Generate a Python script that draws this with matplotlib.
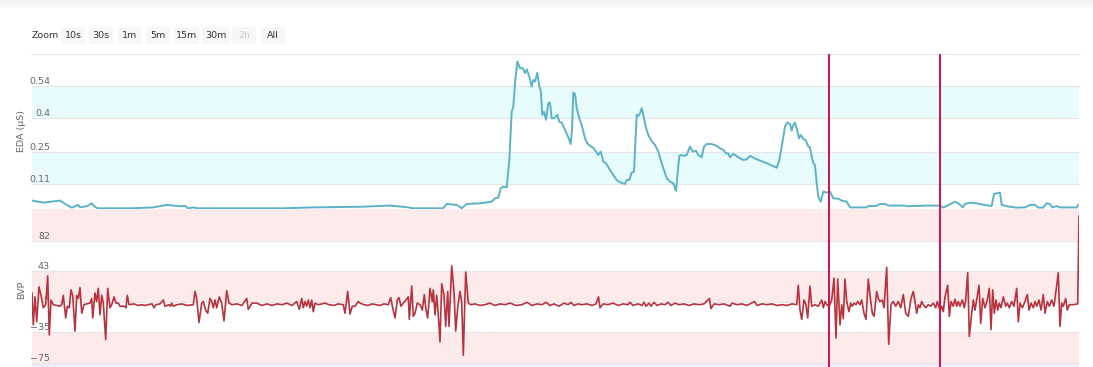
import matplotlib
matplotlib.use("Agg")
import matplotlib.pyplot as plt
import matplotlib.transforms as mtransforms
from matplotlib.patches import Rectangle

plt.rcParams["font.family"] = ["DejaVu Sans"]

# time axis in seconds from the start of the recording
t_end = 1047

# electrodermal activity (microsiemens)
eda_t = [0, 11.3, 28, 34.7, 39.7, 46.3, 48, 55, 59.7, 63,
         66, 100, 121, 134.7, 148, 153, 156, 161, 166, 250,
         280, 330, 358, 375, 381, 411, 414.7, 425, 429.7, 434.7,
         448, 459.7, 463, 466.3, 468.7, 471.3, 474.7, 477.3, 479.7, 481.3,
         483, 485.3, 488, 490.7, 493, 494.7, 497.3, 499.7, 501.3, 503,
         505.3, 507.3, 508.7, 510.3, 512, 514, 516.3, 518, 519.7, 522,
         525.3, 527.3, 529.7, 533, 536.3, 538.7, 540, 541.3, 543, 544.7,
         547.3, 549.7, 553, 555.3, 558.7, 560.7, 564, 566.3, 568.7, 571.3,
         574, 578, 581.3, 584.7, 588, 593, 594.7, 597.3, 599.7, 602,
         604.7, 606.3, 608, 609.7, 611.3, 613.7, 616.3, 619, 623, 626.3,
         629.7, 631.3, 634.7, 638, 641.3, 644, 647.3, 649, 652, 654.7,
         658, 660.7, 664, 666.3, 669.7, 672, 674.7, 679.7, 684.7, 688,
         691.3, 694, 696.3, 698, 701.3, 706.3, 711.3, 714.7, 718, 724.7,
         734.7, 744.7, 747.3, 749.7, 753, 755.3, 758, 759.7, 761.3, 763,
         764.7, 767, 768.7, 771.3, 773.7, 776.3, 778, 779.7, 781.3, 783,
         784.7, 786.3, 788.7, 791.3, 794.7, 798, 801.3, 806.3, 809.7, 814.7,
         818, 834.7, 836.3, 844, 848, 853, 856.3, 873, 875, 894.7,
         908, 911.3, 923, 927.3, 930.7, 933, 938, 944.7, 949.7, 959.7,
         962, 964.7, 968, 969.7, 976, 984.7, 993, 998, 1003, 1006.3,
         1011, 1014.7, 1018, 1020.3, 1024.7, 1028, 1044.7, 1046.3]
eda_us = [0.037, 0.028, 0.037, 0.018, 0.006, 0.018, 0.008, 0.012, 0.025, 0.009,
          0.003, 0.003, 0.007, 0.018, 0.012, 0.014, 0.003, 0.007, 0.003, 0.003,
          0.007, 0.010, 0.015, 0.008, 0.003, 0.003, 0.022, 0.018, 0.003, 0.022,
          0.025, 0.032, 0.047, 0.050, 0.091, 0.098, 0.095, 0.215, 0.427, 0.449,
          0.552, 0.647, 0.618, 0.618, 0.596, 0.613, 0.581, 0.537, 0.566, 0.559,
          0.598, 0.537, 0.522, 0.413, 0.427, 0.391, 0.464, 0.467, 0.398, 0.398,
          0.413, 0.383, 0.379, 0.347, 0.315, 0.285, 0.347, 0.511, 0.505, 0.442,
          0.398, 0.369, 0.310, 0.288, 0.274, 0.271, 0.252, 0.237, 0.252, 0.208,
          0.201, 0.171, 0.149, 0.127, 0.117, 0.110, 0.127, 0.127, 0.160, 0.164,
          0.413, 0.408, 0.420, 0.442, 0.413, 0.361, 0.325, 0.303, 0.281, 0.252,
          0.201, 0.179, 0.135, 0.120, 0.113, 0.079, 0.233, 0.237, 0.233, 0.237,
          0.274, 0.252, 0.255, 0.237, 0.227, 0.274, 0.285, 0.285, 0.277, 0.266,
          0.259, 0.244, 0.244, 0.227, 0.242, 0.227, 0.215, 0.218, 0.233, 0.218,
          0.201, 0.181, 0.215, 0.274, 0.361, 0.379, 0.373, 0.344, 0.369, 0.379,
          0.354, 0.310, 0.325, 0.306, 0.303, 0.274, 0.271, 0.230, 0.201, 0.193,
          0.113, 0.054, 0.032, 0.076, 0.072, 0.076, 0.047, 0.045, 0.037, 0.032,
          0.007, 0.007, 0.013, 0.013, 0.022, 0.022, 0.015, 0.015, 0.012, 0.015,
          0.015, 0.006, 0.032, 0.022, 0.007, 0.022, 0.028, 0.025, 0.020, 0.013,
          0.066, 0.069, 0.072, 0.018, 0.011, 0.006, 0.007, 0.018, 0.018, 0.006,
          0.006, 0.025, 0.022, 0.007, 0.013, 0.007, 0.007, 0.018]

# blood volume pulse
bvp_t = [0, 1.3, 3, 4.7, 7, 9.7, 11.3, 13.7, 15.7, 17.3,
         19, 21.3, 24.7, 28, 29.7, 31.3, 33.7, 35.3, 37.3, 39,
         40.7, 43, 44.7, 46.3, 48, 49.7, 52, 54.7, 58, 59.7,
         60.7, 63, 64.7, 66.3, 68, 69.7, 71.3, 73.7, 75.7, 78,
         79.7, 82, 84, 86.3, 88, 92.3, 94, 95.3, 97, 102,
         106, 110, 113, 116, 120, 122, 124, 128, 131.3, 133,
         137, 138.5, 139.7, 141.3, 145, 150, 155, 161.3, 163, 164.7,
         167, 169.7, 171.3, 173.7, 175.7, 178, 179.7, 181.3, 183, 184.7,
         187.3, 189.7, 192, 194.7, 197, 200, 205, 210, 214.7, 216.3,
         220, 224.7, 230, 235, 240, 245, 250, 255, 260, 264.7,
         267.3, 269.7, 271.3, 273, 274.7, 276.3, 278, 279.7, 281.3, 283,
         286, 290, 293, 297, 302, 306, 311.3, 313, 315.7, 318,
         320.3, 323, 326.3, 328, 332, 336, 340, 344, 348, 352,
         356.3, 358.7, 360.7, 363, 365.3, 367, 369, 371.3, 374, 376.3,
         377.3, 379.7, 381.3, 383, 385.3, 388, 390.3, 392.3, 394, 395.7,
         398, 400.3, 401.3, 403, 404.7, 406.3, 408, 409.7, 412, 413.7,
         415.7, 417, 419.7, 422, 423.7, 425.7, 428, 429.7, 431.3, 433.7,
         436.3, 438.7, 443, 448, 453, 458, 463, 468, 473, 478,
         484, 490, 495, 500, 505, 510, 514, 518, 522, 527,
         532, 536, 539, 542, 546, 550, 555, 560, 564, 566.5,
         568, 571, 576, 581, 586, 591, 596, 598, 601, 606,
         610, 612, 614, 617, 619, 622, 625, 629, 633, 636,
         639, 643, 647, 652, 657, 662, 667, 672, 677.4, 679,
         682, 687, 692, 698, 700, 705, 710, 715, 722.5, 725,
         730, 735, 740, 745, 750, 755, 760, 764.7, 766.3, 768,
         769.7, 772, 774, 775.7, 778, 779.7, 783, 786.3, 789.7, 791.3,
         793, 794.7, 797.3, 799.7, 802, 804, 805.7, 808, 809.7, 811.3,
         813, 814.7, 817, 818.7, 820.3, 822, 824, 825.7, 828, 829.7,
         832, 834, 836.3, 838, 840.3, 842, 844.7, 846.3, 848, 850.3,
         852, 854.7, 856.7, 859, 861.3, 863.7, 866.3, 868.7, 871.3, 873.7,
         876.3, 879, 881.3, 883, 884.7, 886.3, 888, 889.7, 891.3, 893.7,
         896.3, 898.7, 901.3, 903.7, 905.3, 908, 909.7, 911.3, 913, 915.7,
         917.3, 919, 921.3, 923, 924.7, 926.3, 928, 930.3, 932.3, 933.7,
         935.7, 937.3, 939.7, 941.3, 943, 947, 948.7, 950.7, 953, 955.3,
         957.3, 959, 960.7, 962.3, 964, 965.7, 967.3, 969, 971.3, 973.7,
         975.3, 977.3, 979.7, 982, 984.7, 986.3, 988, 990.3, 993, 995.3,
         997, 999, 1001.3, 1003, 1004.7, 1007, 1009, 1011.3, 1013, 1015.3,
         1017.3, 1019.7, 1022, 1026.3, 1028, 1029.7, 1031.3, 1033.7, 1035.3, 1037.3,
         1041.3, 1045.7, 1047]
bvp_val = [15, -26, 10, -22, 23, 8, -4, 0, 37, -39,
           6, 0, -1, -2, 0, 12, -17, -2, -4, 19,
           12, -34, 12, 8, 22, -11, 0, 1, 2, 8,
           -17, 15, 4, 21, -13, 12, 2, -45, 21, -4,
           0, 10, 2, 2, -2, -2, -4, 12, 0, 1,
           -1, 0, -1, 0, 1, -4, 0, 1, 6, -2,
           0, -2, 2, -2, 0, 1, -1, 0, 17, 8,
           -23, 2, 4, -7, -11, 8, 4, -4, 6, -4,
           10, 2, -21, 18, 2, 0, 1, -1, 8, -6,
           2, 2, -1, 1, -1, 1, 0, 2, -1, 4,
           -6, 8, -4, 4, -2, 6, -4, 6, -9, 2,
           0, 1, 2, 0, -1, 1, 0, -11, 17, -12,
           -2, -2, 4, 2, 0, -1, 1, 0, -1, 1,
           0, 9, -4, -17, 6, 9, -2, 2, 6, 10,
           -19, 24, -15, -11, 2, 0, -7, 13, -7, -17,
           21, 4, 19, -13, 12, -13, -48, 27, 12, -28,
           17, -28, 50, 17, -34, -4, 17, 4, -65, 42,
           2, 0, 1, -1, 0, 2, -1, 1, 0, 2,
           -1, 0, 3, -1, 1, 0, 3, -1, 1, -2,
           2, 0, 3, -1, 1, 0, 1, -1, 1, 10,
           -4, 1, 0, 2, -1, 1, 0, 3, -1, 1,
           -1, 3, -2, 2, -2, 3, -1, 1, 0, 3,
           -1, 2, 0, 1, -1, 1, 0, 1, 8, -5,
           1, 0, 1, -2, 2, 0, 1, -1, 4, -1,
           1, 0, 1, -1, 0, -1, 1, 0, 25, -7,
           -19, 6, 0, -17, 24, -2, 0, -2, 6, -4,
           4, 0, -2, 6, 34, -43, 33, -26, 0, -18,
           33, 4, -9, 2, -2, 2, 0, 4, 0, 6,
           -11, -19, 33, 12, -11, -15, 17, 8, 4, 6,
           -4, 48, -51, 0, 4, -2, 4, -4, 13, -11,
           -15, 8, 17, 4, -11, 0, -4, 4, 0, -4,
           0, -2, 2, -4, 4, -7, -2, -9, 10, 25,
           -15, 4, -2, 7, -2, 4, -2, 6, -4, 6,
           41, -41, -11, 6, -7, 25, -24, 8, -4, 6,
           21, -32, 19, -11, 6, -7, 2, -4, 10, -2,
           2, -4, 4, -2, 21, -22, 2, -4, 4, 13,
           -7, 2, -4, 4, -2, 6, -7, 13, -11, 4,
           -2, 6, -2, 41, -28, 2, -2, 8, -7, 0,
           0, 1, 114]

# y axis ticks of both panels
eda_ticks = [0.11, 0.25, 0.4, 0.54]
eda_tick_labels = ["0.11", "0.25", "0.4", "0.54"]
eda_range = (0, 0.68)
bvp_ticks = [-75, -35, 4, 43, 82]
bvp_tick_labels = ["\u221275", "\u221235", "4", "43", "82"]
bvp_range = (-75, 123)

# plot bands drawn between alternating ticks
eda_bands = [(0.11, 0.25), (0.4, 0.54)]
bvp_bands = [(-75, -35), (4, 43), (82, 123)]

# event markers
marker_t = [797, 908]

zoom_labels = ["10s", "30s", "1m", "5m", "15m", "30m", "2h", "All"]

W, H = 1093, 367
fig = plt.figure(figsize=(W / 100, H / 100), dpi=100)
fig.patch.set_facecolor("white")


def frac(x0, y0, x1, y1):
    return [x0 / W, 1 - y1 / H, (x1 - x0) / W, (y1 - y0) / H]


ax_eda = fig.add_axes(frac(32, 54, 1079, 209))
ax_bvp = fig.add_axes(frac(32, 209, 1079, 363))

grid_color = "#e6e6e6"
label_color = "#666666"


def setup_panel(ax, yr, ticks, labels, bands, band_color):
    ax.set_xlim(0, t_end)
    ax.set_ylim(*yr)
    ax.set_xticks([])
    ax.set_yticks([])
    for s in ax.spines.values():
        s.set_visible(False)
    ax.patch.set_alpha(0)
    for lo, hi in bands:
        ax.axhspan(lo, hi, color=band_color, lw=0, zorder=0)
    for v in ticks:
        ax.axhline(v, color=grid_color, lw=0.8, zorder=1, clip_on=False)
    trans = mtransforms.blended_transform_factory(ax.transAxes, ax.transData)
    trans = mtransforms.offset_copy(trans, fig=fig, x=0, y=2, units="dots")
    for v, lab in zip(ticks, labels):
        ax.text(18 / 1047, v, lab, transform=trans, ha="right", va="baseline",
                fontsize=6.8, color=label_color, zorder=2)


setup_panel(ax_eda, eda_range, eda_ticks, eda_tick_labels, eda_bands, "#e9fcfd")
setup_panel(ax_bvp, bvp_range, bvp_ticks, bvp_tick_labels, bvp_bands, "#fdebeb")
ax_eda.axhline(eda_range[1], color=grid_color, lw=0.8, zorder=1, clip_on=False)

ax_eda.plot(eda_t, eda_us, color="#5cb3c6", lw=1.4, zorder=3,
            solid_joinstyle="round")
ax_bvp.plot(bvp_t, bvp_val, color="#b8333f", lw=1.2, zorder=3,
            solid_joinstyle="round")

for t in marker_t:
    ax_eda.axvline(t, color="#d0114d", lw=1.4, zorder=5)
    ax_bvp.axvline(t, ymin=-0.05, ymax=1, color="#d0114d", lw=1.4, zorder=5,
                   clip_on=False)

fig.text(22 / W, 1 - 131 / H, "EDA (\u00b5S)", rotation=90, ha="center",
         va="center", fontsize=6.8, color=label_color)
fig.text(22 / W, 1 - 290 / H, "BVP", rotation=90, ha="center", va="center",
         fontsize=6.8, color=label_color)

# navigator edge under the lower panel, kept behind the axes
fig.add_artist(Rectangle((32 / W, 0), 1047 / W, 4 / H, transform=fig.transFigure,
                         facecolor="#efedfa", edgecolor="none", zorder=-1))

# soft shadow at the top of the card
for y0, y1, c in [(0, 3, "#f1f1f1"), (3, 6, "#f5f5f5"), (6, 8, "#fbfbfb")]:
    fig.add_artist(Rectangle((0, 1 - y1 / H), 1, (y1 - y0) / H,
                             transform=fig.transFigure, facecolor=c,
                             edgecolor="none", zorder=-1))

# range selector buttons
fig.text(32 / W, 1 - 35.5 / H, "Zoom", fontsize=6.8, color="#333333",
         ha="left", va="center")
btn_left = [61, 89, 118, 146, 174, 202, 232, 261]
btn_right = [85, 113, 142, 170, 199, 229, 256, 285]
for lab, x0, x1 in zip(zoom_labels, btn_left, btn_right):
    fig.add_artist(Rectangle((x0 / W, 1 - 44 / H), (x1 - x0) / W, 17 / H,
                             transform=fig.transFigure, facecolor="#f7f7f7",
                             edgecolor="none"))
    fig.text((x0 + x1) / 2 / W, 1 - 35.5 / H, lab, fontsize=6.8,
             color="#cccccc" if lab == "2h" else "#333333",
             ha="center", va="center")

fig.savefig("out.png", dpi=100)
